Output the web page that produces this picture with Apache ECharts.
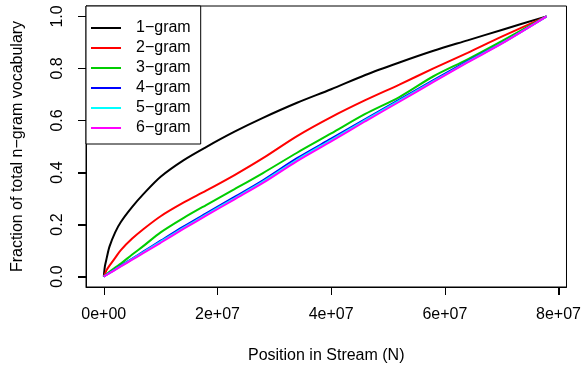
<!DOCTYPE html>
<html>
<head>
<meta charset="utf-8">
<title>n-gram vocabulary growth</title>
<script src="https://cdn.jsdelivr.net/npm/echarts@6/dist/echarts.min.js"></script>
<style>
  html, body { margin: 0; padding: 0; background: #fff; }
  #chart { width: 584px; height: 373px; }
</style>
</head>
<body>
<div id="chart"></div>
<script>
// Stream positions (tokens seen so far) at which the vocabulary was sampled
const positions = [0, 2e5, 5e5, 1e6, 2e6, 3e6, 5e6, 7e6, 1e7, 1.4e7, 1.8e7, 2.3e7,
  2.8e7, 3.4e7, 4.0e7, 4.6e7, 5.2e7, 5.8e7, 6.4e7, 7.0e7, 7.79e7];

// Fraction of the final vocabulary reached at each position
const gram1 = [0, 0.04, 0.07, 0.115, 0.17, 0.21, 0.268, 0.318, 0.384, 0.447, 0.498, 0.557,
  0.61, 0.668, 0.72, 0.775, 0.823, 0.868, 0.908, 0.948, 1.0];
const gram2 = [0, 0.01, 0.025, 0.042, 0.072, 0.102, 0.146, 0.183, 0.232, 0.284, 0.33, 0.39,
  0.455, 0.54, 0.613, 0.678, 0.738, 0.8, 0.86, 0.922, 1.0];
const gram3 = [0, 0.004, 0.01, 0.018, 0.035, 0.05, 0.085, 0.118, 0.17, 0.225, 0.275, 0.336,
  0.398, 0.476, 0.55, 0.625, 0.69, 0.77, 0.835, 0.905, 1.0];
const gram4 = [0, 0.003, 0.007, 0.014, 0.028, 0.042, 0.069, 0.097, 0.138, 0.192, 0.243, 0.306,
  0.37, 0.455, 0.53, 0.605, 0.68, 0.755, 0.828, 0.897, 1.0];
const gram5 = [0, 0.003, 0.0068, 0.0135, 0.027, 0.04, 0.067, 0.094, 0.134, 0.187, 0.238, 0.301,
  0.365, 0.449, 0.525, 0.601, 0.676, 0.751, 0.825, 0.896, 1.0];
const gram6 = [0, 0.003, 0.0065, 0.013, 0.026, 0.039, 0.065, 0.091, 0.13, 0.183, 0.234, 0.297,
  0.36, 0.444, 0.52, 0.597, 0.672, 0.748, 0.823, 0.895, 1.0];

const seriesNames = ['1\u2212gram', '2\u2212gram', '3\u2212gram', '4\u2212gram', '5\u2212gram', '6\u2212gram'];
const seriesColors = ['#000000', '#ff0000', '#00cd00', '#0000ff', '#00ffff', '#ff00ff'];
const seriesValues = [gram1, gram2, gram3, gram4, gram5, gram6];

// Axis ticks
const xTickValues = [0, 2e7, 4e7, 6e7, 8e7];
const xTickLabels = ['0e+00', '2e+07', '4e+07', '6e+07', '8e+07'];
const yTickValues = [0, 0.2, 0.4, 0.6, 0.8, 1.0];
const yTickLabels = ['0.0', '0.2', '0.4', '0.6', '0.8', '1.0'];

// Axis ranges: data range padded by 4% on each side
const X_MIN = -3.13e6, X_MAX = 8.14e7;
const Y_MIN = -0.04, Y_MAX = 1.04;
const TICK_LEN = 8;

const FONT = 'Liberation Sans, Arial, Helvetica, sans-serif';

const chart = echarts.init(document.getElementById('chart'));

const series = seriesNames.map((name, i) => ({
  name: name,
  type: 'line',
  data: positions.map((p, j) => [p, seriesValues[i][j]]),
  showSymbol: false,
  symbol: 'none',
  smooth: 0.3,
  lineStyle: { color: seriesColors[i], width: 2 },
  itemStyle: { color: seriesColors[i] },
  animation: false
}));

chart.setOption({
  animation: false,
  grid: {
    left: 86, right: 16, top: 6, bottom: 86,
    show: true, borderColor: '#000', borderWidth: 1
  },
  legend: {
    orient: 'vertical',
    left: 86, top: 6,
    data: seriesNames,
    icon: 'rect',
    itemWidth: 30,
    itemHeight: 2,
    itemGap: 4,
    padding: [14, 10, 8, 5],
    backgroundColor: '#fff',
    borderColor: '#000',
    borderWidth: 1,
    borderRadius: 0,
    selectedMode: false,
    textStyle: {
      fontFamily: FONT, fontSize: 16, color: '#000',
      lineHeight: 16, padding: [0, 0, 0, 10]
    },
    z: 10
  },
  xAxis: {
    type: 'value',
    min: X_MIN,
    max: X_MAX,
    name: 'Position in Stream (N)',
    nameLocation: 'middle',
    nameGap: 61,
    nameTextStyle: { fontFamily: FONT, fontSize: 16, color: '#000' },
    axisLine: { show: true, onZero: false, lineStyle: { color: '#000', width: 1 } },
    splitLine: { show: false },
    axisTick: {
      show: true, length: TICK_LEN,
      customValues: xTickValues,
      lineStyle: { color: '#000', width: 1 }
    },
    axisLabel: {
      margin: 20,
      customValues: xTickValues,
      fontFamily: FONT, fontSize: 16, color: '#000',
      formatter: v => xTickLabels[xTickValues.indexOf(v)]
    }
  },
  yAxis: {
    type: 'value',
    min: Y_MIN,
    max: Y_MAX,
    name: 'Fraction of total n\u2212gram vocabulary',
    nameLocation: 'middle',
    nameGap: 60,
    nameTextStyle: { fontFamily: FONT, fontSize: 16, color: '#000' },
    axisLine: { show: true, onZero: false, lineStyle: { color: '#000', width: 1 } },
    splitLine: { show: false },
    axisTick: {
      show: true, length: TICK_LEN,
      customValues: yTickValues,
      lineStyle: { color: '#000', width: 1 }
    },
    axisLabel: {
      margin: 20, rotate: 90,
      customValues: yTickValues,
      fontFamily: FONT, fontSize: 16, color: '#000',
      formatter: v => yTickLabels[yTickValues.findIndex(t => Math.abs(t - v) < 1e-9)]
    }
  },
  series: series
});

// Outward tick marks on the frame, placed through the grid's own scales
const tickMarks = [];
xTickValues.forEach(v => {
  const p = chart.convertToPixel({ gridIndex: 0 }, [v, Y_MIN]);
  const x = Math.round(p[0]) + 0.5;
  const y = Math.round(p[1]);
  tickMarks.push({
    type: 'line', silent: true, z: 100,
    shape: { x1: x, y1: y, x2: x, y2: y + TICK_LEN },
    style: { stroke: '#000', lineWidth: 1 }
  });
});
yTickValues.forEach(v => {
  const p = chart.convertToPixel({ gridIndex: 0 }, [X_MIN, v]);
  const x = Math.round(p[0]);
  const y = Math.round(p[1]) + 0.5;
  tickMarks.push({
    type: 'line', silent: true, z: 100,
    shape: { x1: x - TICK_LEN, y1: y, x2: x, y2: y },
    style: { stroke: '#000', lineWidth: 1 }
  });
});
chart.setOption({ graphic: { elements: tickMarks } });
</script>
</body>
</html>
